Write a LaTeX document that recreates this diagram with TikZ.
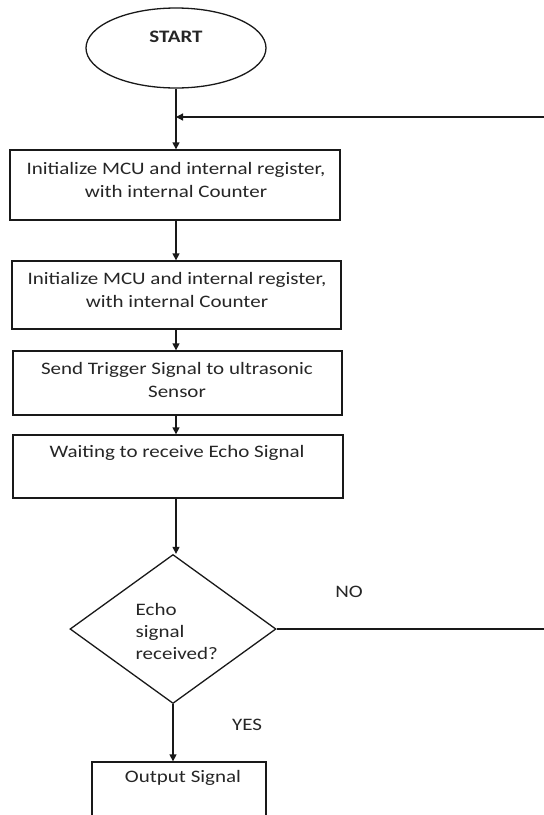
\documentclass[tikz,border=0pt]{standalone}
\usepackage{fontspec}
\setmainfont[FakeStretch=1.2]{Carlito}
\usetikzlibrary{arrows.meta,shapes.geometric}
\begin{document}
\begin{tikzpicture}[x=1pt,y=-1pt,
  line width=1.3pt, draw=black!90,
  every node/.style={font=\fontsize{17.5}{23}\selectfont, text=black!85},
  flow/.style={draw, -{Triangle[length=7pt,width=7pt]}},
  plain/.style={draw},
  procbox/.style={draw, rectangle, inner sep=0pt},
  txt/.style={inner sep=0pt, align=center},
]
\clip (0,0) rectangle (544,815);
\fill[white] (0,0) rectangle (544,815);

% start terminal
\node[draw, ellipse, minimum width=180, minimum height=80, inner sep=0pt] (start) at (176,48) {};
\node[txt, font=\fontsize{17.5}{20}\selectfont\bfseries] at (176,37) {START};

% process boxes
\node[procbox, minimum width=330, minimum height=70] (b1) at (175,185) {};
\node[txt] at (176,180) {Initialize MCU and internal register,\\with internal Counter};

\node[procbox, minimum width=329, minimum height=68] (b2) at (176.5,295) {};
\node[txt] at (177,290) {Initialize MCU and internal register,\\with internal Counter};

\node[procbox, minimum width=329, minimum height=64] (b3) at (177.5,383) {};
\node[txt] at (177,380) {Send Trigger Signal to ultrasonic\\Sensor};

\node[procbox, minimum width=330, minimum height=63] (b4) at (178,466.5) {};
\node[txt] at (177,453) {Waiting to receive Echo Signal};

% decision
\node[draw, diamond, minimum width=206, minimum height=149, inner sep=0pt, aspect=1.38] (dec) at (173,629) {};
\node[txt, align=left, anchor=west, font=\fontsize{17.5}{22}\selectfont] at (135,631) {Echo\\signal\\received?};

% output
\node[procbox, minimum width=174, minimum height=100] (b5) at (179,812) {};
\node[txt] at (183,778) {Output Signal};

% branch labels
\node[txt] at (349,592) {NO};
\node[txt] at (247,725) {YES};

% connectors
\coordinate (loopin) at (544,117);
\coordinate (loopout) at (544,629);
\draw[flow] (start.south) -- (start.south |- b1.north);
\draw[flow] (loopin) -- (start.south |- loopin);
\draw[flow] (b1.south -| start.south) -- (b2.north -| start.south);
\draw[flow] (b2.south -| start.south) -- (b3.north -| start.south);
\draw[flow] (b3.south -| start.south) -- (b4.north -| start.south);
\draw[flow] (b4.south -| start.south) -- (dec.north -| start.south);
\draw[plain] (dec.east) -- (loopout);
\draw[flow] (dec.south) -- (dec.south |- b5.north);
\end{tikzpicture}
\end{document}
